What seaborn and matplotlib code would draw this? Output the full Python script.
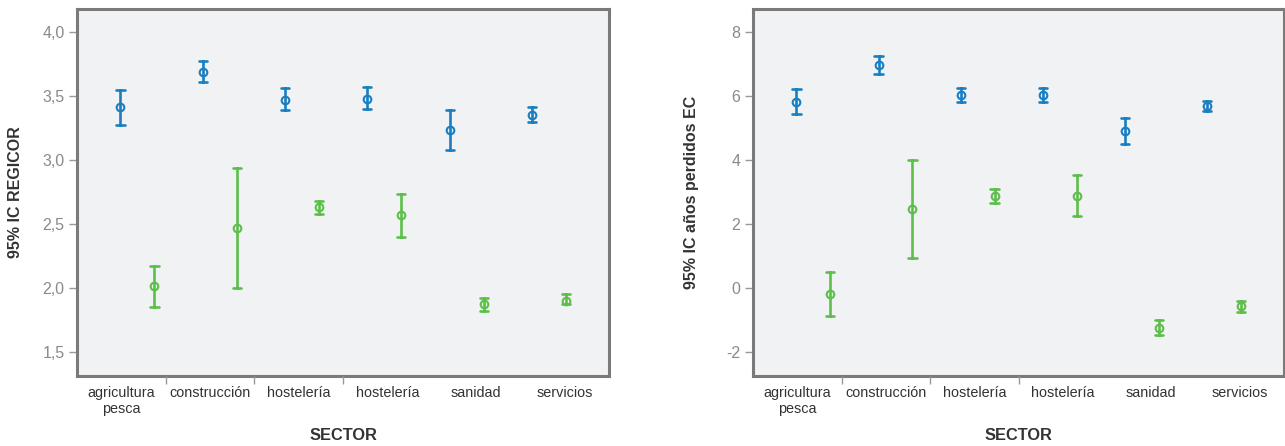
import numpy as np
import pandas as pd
import matplotlib
matplotlib.use("Agg")
import matplotlib.pyplot as plt
import seaborn as sns
from matplotlib.ticker import FuncFormatter

################################################
#                 Data
################################################
sectors = ["agricultura\npesca", "construcción", "hostelería",
           "hostelería", "sanidad", "servicios"]
groups = ["grupo 1", "grupo 2"]

# 95% IC REGICOR (centre, lower, upper)
regicor_g1_mean = [3.41, 3.69, 3.47, 3.48, 3.23, 3.35]
regicor_g1_lo = [3.27, 3.61, 3.39, 3.40, 3.08, 3.30]
regicor_g1_hi = [3.55, 3.77, 3.56, 3.57, 3.39, 3.41]
regicor_g2_mean = [2.01, 2.47, 2.63, 2.57, 1.87, 1.90]
regicor_g2_lo = [1.85, 2.00, 2.58, 2.40, 1.82, 1.87]
regicor_g2_hi = [2.17, 2.94, 2.68, 2.73, 1.92, 1.95]

# 95% IC años perdidos EC
ec_g1_mean = [5.82, 6.97, 6.04, 6.03, 4.92, 5.69]
ec_g1_lo = [5.44, 6.69, 5.81, 5.80, 4.50, 5.54]
ec_g1_hi = [6.21, 7.25, 6.26, 6.26, 5.32, 5.85]
ec_g2_mean = [-0.20, 2.47, 2.88, 2.88, -1.24, -0.57]
ec_g2_lo = [-0.89, 0.94, 2.66, 2.24, -1.47, -0.74]
ec_g2_hi = [0.49, 3.99, 3.11, 3.53, -1.01, -0.41]

BLUE = "#1a7fc1"
GREEN = "#5cbf4a"
SPINE = "#7a7a7a"


def build_frame(g1, g2):
    rows = []
    for grp, (mean, lo, hi) in zip(groups, [g1, g2]):
        for i in range(len(sectors)):
            for v in (lo[i], mean[i], hi[i]):
                rows.append({"pos": i, "grupo": grp, "valor": v})
    return pd.DataFrame(rows)


df_regicor = build_frame((regicor_g1_mean, regicor_g1_lo, regicor_g1_hi),
                         (regicor_g2_mean, regicor_g2_lo, regicor_g2_hi))
df_ec = build_frame((ec_g1_mean, ec_g1_lo, ec_g1_hi),
                    (ec_g2_mean, ec_g2_lo, ec_g2_hi))

################################################
#                 Plot
################################################
sns.set_style("white")
plt.rcParams["font.family"] = ["Liberation Sans", "DejaVu Sans"]

fig = plt.figure(figsize=(12.85, 4.46), dpi=100)
ax_left = fig.add_axes([77 / 1285, 70 / 446, 532 / 1285, 367 / 446])
ax_right = fig.add_axes([753 / 1285, 70 / 446, 531 / 1285, 367 / 446])


def draw_panel(ax, df, ylabel, ylim, yticks, fmt):
    sns.pointplot(data=df, x="pos", y="valor", hue="grupo", hue_order=groups,
                  palette=[BLUE, GREEN], estimator="median",
                  errorbar=lambda v: (v.min(), v.max()),
                  dodge=0.413, linestyle="none", markers="o",
                  capsize=0.1, err_kws={"linewidth": 1.9},
                  markersize=5.5, markeredgewidth=1.5,
                  legend=False, ax=ax)
    for line in ax.lines:
        line.set_markerfacecolor("none")
    ax.set_facecolor("#f1f2f4")
    ax.set_xlim(-0.735, 5.73)
    ax.set_ylim(*ylim)
    ax.set_xticks([])
    ax.set_xlabel("")
    ax.set_yticks(yticks)
    ax.yaxis.set_major_formatter(FuncFormatter(fmt))
    ax.tick_params(axis="y", left=True, length=6, width=1, color="#999999",
                   labelsize=11.5, labelcolor="#8a8a8a", pad=3)
    ax.set_ylabel(ylabel, fontsize=11.5, fontweight="bold", color="#333333")
    ax.yaxis.set_label_coords(-54 / 532, 0.5)
    for s in ax.spines.values():
        s.set_visible(True)
        s.set_color(SPINE)
        s.set_linewidth(2.2)

    # category labels on a separate axis spanning equal-width bins
    ax2 = ax.twiny()
    ax2.set_xlim(0, len(sectors))
    ax2.xaxis.set_ticks_position("bottom")
    ax2.xaxis.set_label_position("bottom")
    ax2.set_xticks(np.arange(len(sectors)) + 0.5)
    ax2.set_xticklabels(sectors)
    ax2.set_xticks([1, 2, 3], minor=True)
    ax2.tick_params(axis="x", which="major", length=0, labelsize=10.4,
                    labelcolor="#333333", pad=7)
    ax2.tick_params(axis="x", which="minor", length=6, width=1,
                    color="#999999")
    for s in ax2.spines.values():
        s.set_visible(False)
    ax2.set_xlabel("SECTOR", fontsize=11.8, fontweight="bold", color="#333333")
    ax2.xaxis.set_label_coords(0.5, -52 / 367)


draw_panel(ax_left, df_regicor, "95% IC REGICOR", (1.31, 4.18),
           [1.5, 2.0, 2.5, 3.0, 3.5, 4.0],
           lambda v, p: f"{v:.1f}".replace(".", ","))
draw_panel(ax_right, df_ec, "95% IC años perdidos EC", (-2.75, 8.72),
           [-2, 0, 2, 4, 6, 8],
           lambda v, p: f"{v:.0f}")

plt.savefig("out.png", dpi=100)
plt.close()
